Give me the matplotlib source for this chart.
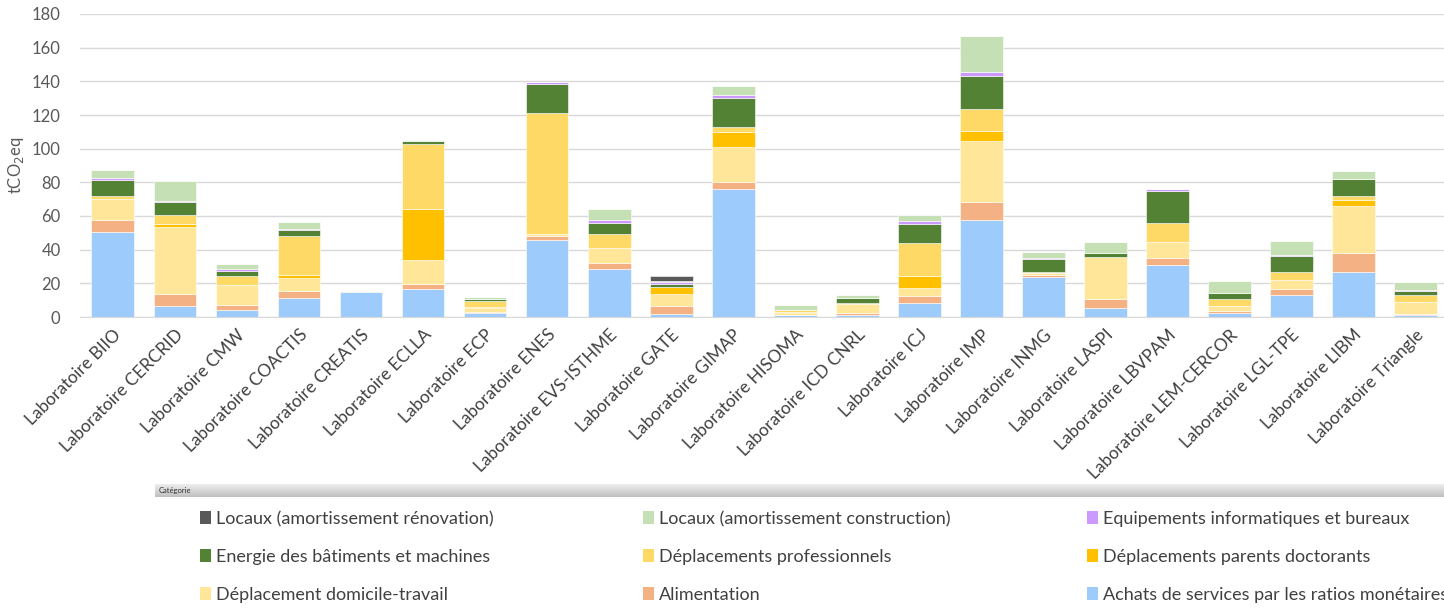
import numpy as np
import matplotlib
matplotlib.use("Agg")
import matplotlib.pyplot as plt
from matplotlib.patches import Patch

plt.rcParams['font.family'] = ['Lato', 'DejaVu Sans']

labs = ["BIIO", "CERCRID", "CMW", "COACTIS", "CREATIS", "ECLLA", "ECP", "ENES",
        "EVS-ISTHME", "GATE", "GIMAP", "HISOMA", "ICD CNRL", "ICJ", "IMP", "INMG",
        "LASPI", "LBVPAM", "LEM-CERCOR", "LGL-TPE", "LIBM", "Triangle"]
labels = ["Laboratoire " + l for l in labs]

# valeurs (tCO2eq), de bas en haut
achats      = [50.3, 6.7, 4.0, 11.5, 15.0, 16.4, 2.2, 45.7, 28.3, 2.0, 75.8, 1.0, 1.0, 8.1, 57.4, 23.8, 5.3, 30.9, 2.6, 13.1, 26.7, 1.0]
alimentation = [7.5, 7.2, 3.1, 3.9, 0.0, 3.2, 0.6, 2.4, 4.0, 4.5, 4.4, 0.2, 1.4, 4.4, 10.7, 1.0, 5.6, 4.1, 0.8, 3.3, 11.1, 0.8]
domicile    = [12.3, 39.8, 11.9, 8.0, 0.0, 14.1, 2.7, 1.2, 8.7, 7.2, 20.8, 1.2, 5.5, 4.7, 36.7, 1.1, 24.5, 9.6, 3.3, 5.8, 28.3, 7.1]
doctorants  = [0.0, 1.5, 0.0, 1.6, 0.0, 30.5, 0.4, 0.0, 0.0, 3.9, 8.7, 0.8, 0.0, 7.4, 5.7, 0.0, 0.0, 0.0, 0.0, 0.0, 3.4, 0.3]
professionnels = [1.8, 5.4, 5.4, 23.3, 0.0, 38.6, 3.8, 72.1, 8.3, 0.4, 3.0, 0.8, 0.3, 19.4, 12.9, 0.6, 0.0, 11.4, 3.8, 4.3, 2.6, 3.7]
energie     = [9.5, 7.5, 3.1, 3.4, 0.0, 1.6, 1.2, 17.0, 6.3, 1.6, 17.4, 0.3, 3.0, 11.0, 20.0, 8.0, 2.8, 18.7, 3.8, 9.7, 9.9, 2.5]
equipements = [1.4, 1.0, 1.2, 0.4, 0.0, 0.2, 0.0, 1.2, 1.8, 1.2, 1.8, 0.0, 0.2, 2.0, 1.9, 0.3, 0.0, 1.1, 0.0, 0.6, 0.0, 0.6]
construction = [4.7, 11.7, 2.8, 4.5, 0.2, 0.7, 0.8, 0.2, 6.8, 0.3, 5.5, 2.7, 1.4, 3.6, 21.8, 3.9, 6.4, 0.2, 6.9, 8.3, 4.9, 4.6]
renovation  = [0.0, 0.0, 0.0, 0.0, 0.0, 0.0, 0.0, 0.0, 0.0, 3.0, 0.0, 0.0, 0.0, 0.0, 0.0, 0.0, 0.0, 0.0, 0.0, 0.0, 0.0, 0.0]

series = [
    ("Achats de services par les ratios monétaires", achats, "#9DCBFB"),
    ("Alimentation", alimentation, "#F4B183"),
    ("Déplacement domicile-travail", domicile, "#FFE699"),
    ("Déplacements parents doctorants", doctorants, "#FFC000"),
    ("Déplacements professionnels", professionnels, "#FFD966"),
    ("Energie des bâtiments et machines", energie, "#548235"),
    ("Equipements informatiques et bureaux", equipements, "#CC99FF"),
    ("Locaux (amortissement construction)", construction, "#C5E0B4"),
    ("Locaux (amortissement rénovation)", renovation, "#595959"),
]

fig = plt.figure(figsize=(14.44, 6.09), dpi=100)
ax = fig.add_axes([80 / 1444, 1 - 317 / 609, 1 - 80 / 1444, 303 / 609])

x = np.arange(len(labs))
bottom = np.zeros(len(labs))
for name, vals, col in series:
    vals = np.array(vals)
    ax.bar(x, vals, 0.69, bottom=bottom, color=col, edgecolor="white", linewidth=0.4, label=name)
    bottom += vals

ax.set_ylim(0, 180)
ax.set_yticks(range(0, 181, 20))
ax.set_xlim(-0.53, len(labs) - 0.54)
ax.set_xticks(x)
ax.set_xticklabels(labels, rotation=45, ha="right", rotation_mode="anchor", fontsize=12.5, color="#404040")
ax.tick_params(axis="y", labelsize=12, labelcolor="#595959", length=0, pad=14)
ax.tick_params(axis="x", length=0, pad=7)
ax.grid(axis="y", color="#D9D9D9", linewidth=1)
ax.set_axisbelow(True)
for s in ["top", "right", "left"]:
    ax.spines[s].set_visible(False)
ax.spines["bottom"].set_color("#D9D9D9")
ax.set_ylabel("tCO$_2$eq", fontsize=12, color="#595959", labelpad=4)

# bandeau "Catégorie"
cax = fig.add_axes([155 / 1444, 1 - 497 / 609, (1444 - 155) / 1444, 13 / 609])
grad = np.linspace(0.93, 0.75, 50).reshape(-1, 1)
cax.imshow(grad, cmap="gray", vmin=0, vmax=1, aspect="auto", extent=[0, 1, 0, 1])
cax.set_axis_off()
cax.text(0.003, 0.5, "Catégorie", fontsize=5.5, va="center", ha="left", color="#303030")

# légende en trois colonnes (lecture ligne par ligne)
rows = [[8, 7, 6], [5, 4, 3], [2, 1, 0]]
col_x = [200 / 1444, 643 / 1444, 1087 / 1444]
for c in range(3):
    handles = [Patch(facecolor=series[rows[r][c]][2], label=series[rows[r][c]][0]) for r in range(3)]
    fig.legend(handles=handles, loc="upper left", bbox_to_anchor=(col_x[c], 1 - 511 / 609),
               frameon=False, fontsize=13, handlelength=0.6, handleheight=0.75,
               handletextpad=0.3, labelspacing=1.22, borderpad=0, borderaxespad=0,
               labelcolor="#404040")

fig.savefig("out.png", dpi=100)
